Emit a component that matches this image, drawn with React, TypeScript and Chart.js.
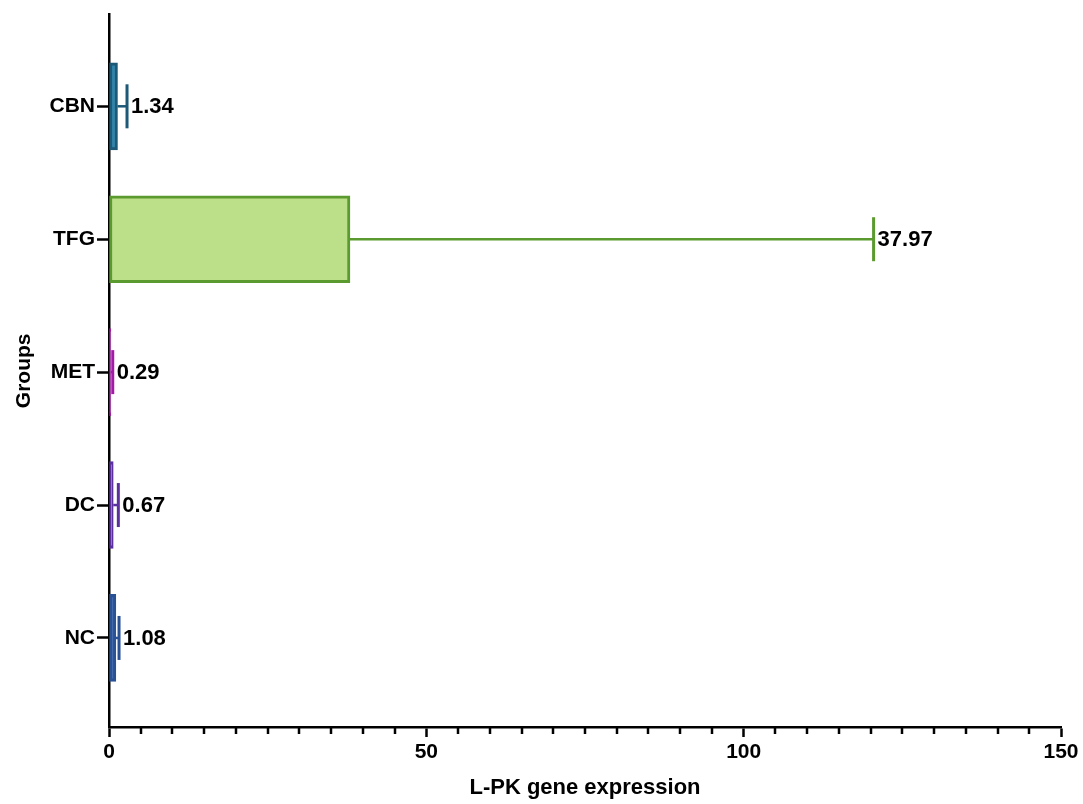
import React, { useEffect, useRef } from "react";
import { Chart, registerables } from "chart.js";

Chart.register(...registerables);

// Groups from bottom (index 0) to top
const groups = ["NC", "DC", "MET", "TFG", "CBN"];
const meanValues = [1.08, 0.67, 0.29, 37.97, 1.34];
const errorValues = [0.5, 0.8, 0.3, 82.5, 1.5];
const valueLabels = ["1.08", "0.67", "0.29", "37.97", "1.34"];
const xTickValues = [0, 50, 100, 150];
const minorStep = 5;

const fillColors = ["#3a64aa", "#7a52bb", "#c040c4", "#bcdf8a", "#2d84ad"];
const edgeColors = ["#2b5195", "#5a2f9e", "#a21aa6", "#5b9a2f", "#1d5876"];

const FONT = "'Liberation Sans', Arial, Helvetica, sans-serif";

const errorBarPlugin = {
  id: "errorBars",
  afterDatasetsDraw(chart: any) {
    const ctx = chart.ctx;
    const xs = chart.scales.x;
    const meta = chart.getDatasetMeta(0);
    meta.data.forEach((bar: any, i: number) => {
      const endX = xs.getPixelForValue(meanValues[i] + errorValues[i]);
      const y = bar.y;
      ctx.save();
      ctx.strokeStyle = edgeColors[i];
      ctx.lineWidth = 2.5;
      ctx.beginPath();
      ctx.moveTo(bar.x, y);
      ctx.lineTo(endX, y);
      ctx.stroke();
      ctx.lineWidth = 3;
      ctx.beginPath();
      ctx.moveTo(endX, y - 22);
      ctx.lineTo(endX, y + 22);
      ctx.stroke();
      ctx.fillStyle = "#000";
      ctx.font = `bold 22px ${FONT}`;
      ctx.textAlign = "left";
      ctx.textBaseline = "middle";
      ctx.fillText(valueLabels[i], endX + 4, y + 1);
      ctx.restore();
    });
  },
  afterDraw(chart: any) {
    // minor tick marks on the value axis
    const ctx = chart.ctx;
    const xs = chart.scales.x;
    const yBase = chart.chartArea.bottom;
    ctx.save();
    ctx.strokeStyle = "#000";
    ctx.lineWidth = 2.5;
    for (let v = xs.min + minorStep; v < xs.max; v += minorStep) {
      if (xTickValues.includes(v)) continue;
      const px = Math.round(xs.getPixelForValue(v));
      ctx.beginPath();
      ctx.moveTo(px, yBase);
      ctx.lineTo(px, yBase + 7);
      ctx.stroke();
    }
    ctx.restore();
  },
};

export default function App() {
  const canvasRef = useRef<HTMLCanvasElement | null>(null);

  useEffect(() => {
    if (!canvasRef.current) return;
    const chart = new Chart(canvasRef.current, {
      type: "bar",
      data: {
        datasets: [
          {
            data: meanValues.map((v, i) => ({ x: v, y: i })),
            backgroundColor: fillColors,
            borderColor: edgeColors,
            borderWidth: 3,
            borderSkipped: false,
            barThickness: 87,
          },
        ],
      },
      options: {
        indexAxis: "y",
        animation: false,
        responsive: false,
        layout: { padding: { top: 12, right: 22, left: 0, bottom: 0 } },
        plugins: {
          legend: { display: false },
          tooltip: { enabled: false },
        },
        scales: {
          x: {
            type: "linear",
            min: 0,
            max: 150,
            afterBuildTicks: (scale: any) => {
              scale.ticks = xTickValues.map((v) => ({ value: v }));
            },
            afterFit: (scale: any) => {
              scale.height = 77;
            },
            border: { display: true, color: "#000", width: 2.5 },
            grid: {
              drawOnChartArea: false,
              drawTicks: true,
              tickLength: 10,
              tickWidth: 2.5,
              tickColor: "#000",
            },
            ticks: {
              color: "#000",
              padding: 3,
              font: { family: FONT, size: 21, weight: "bold" },
            },
            title: {
              display: true,
              text: "L-PK gene expression",
              color: "#000",
              font: { family: FONT, size: 22, weight: "bold" },
              padding: { top: 0, bottom: 3 },
            },
          },
          y: {
            type: "linear",
            offset: false,
            min: -0.67,
            max: 4.69,
            afterBuildTicks: (scale: any) => {
              scale.ticks = groups.map((_, i) => ({ value: i }));
            },
            afterFit: (scale: any) => {
              scale.width = 109;
            },
            border: { display: true, color: "#000", width: 2.5 },
            grid: {
              offset: false,
              drawOnChartArea: false,
              drawTicks: true,
              tickLength: 12,
              tickWidth: 2.5,
              tickColor: "#000",
            },
            ticks: {
              color: "#000",
              padding: 2,
              autoSkip: false,
              font: { family: FONT, size: 21, weight: "bold" },
              callback: (value: any) => groups[Math.round(Number(value))] ?? "",
            },
            title: {
              display: true,
              text: "Groups",
              color: "#000",
              font: { family: FONT, size: 21, weight: "bold" },
              padding: { top: 12, bottom: 0 },
            },
          },
        },
      },
      plugins: [errorBarPlugin],
    });
    return () => chart.destroy();
  }, []);

  return (
    <div style={{ position: "absolute", left: 0, top: 0, width: 1083, height: 804, background: "#fff" }}>
      <canvas ref={canvasRef} width={1083} height={804} style={{ display: "block" }} />
    </div>
  );
}
